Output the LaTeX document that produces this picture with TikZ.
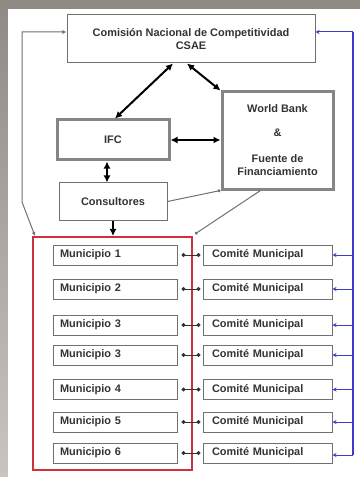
\documentclass[tikz,border=0pt]{standalone}
\usepackage{fontspec}
\setmainfont{Liberation Sans}
\usetikzlibrary{arrows.meta}
\definecolor{bggray}{HTML}{8F8B84}
\definecolor{bglight}{HTML}{C9C5BE}
\definecolor{boxgray}{HTML}{707070}
\definecolor{thickgray}{HTML}{858585}
\definecolor{redbox}{HTML}{D0303C}
\definecolor{bluel}{HTML}{3C3CC8}
\definecolor{txt}{HTML}{333333}
\begin{document}
\begin{tikzpicture}[x=1bp,y=-1bp,
  every node/.style={font=\fontsize{11}{13}\selectfont\bfseries, text=txt},
  thinbox/.style={draw=boxgray, line width=1bp, fill=white, inner sep=0pt, align=center},
  thickbox/.style={draw=thickgray, line width=3bp, fill=white, inner sep=0pt, align=center},
  munbox/.style={thinbox, minimum width=124bp, minimum height=20bp, text width=110bp, align=left},
  combox/.style={thinbox, minimum width=129bp, minimum height=20bp, text width=111bp, align=left},
  dblarrow/.style={line width=2bp, arrows={Latex[length=7bp,width=7bp]-Latex[length=7bp,width=7bp]}},
  downarrow/.style={line width=2bp, arrows={-Latex[length=7bp,width=7bp]}},
  grayline/.style={draw=boxgray, line width=1bp},
  dotlink/.style={draw=black!80, line width=0.9bp, arrows={Circle[length=4bp]-Circle[length=4bp]}, shorten <=4bp, shorten >=2bp},
  blueline/.style={draw=bluel, line width=1.6bp},
  bluearrow/.style={draw=bluel, line width=1bp, arrows={-Stealth[length=4bp,width=4bp]}}
]
\useasboundingbox (0,0) rectangle (360,477);
\fill[bggray] (0,0) rectangle (360,9);
\shade[top color=bggray, bottom color=bglight] (0,0) rectangle (8,477);
\fill[white] (8,9) rectangle (360,477);

% main boxes
\node[thinbox, minimum width=248bp, minimum height=48bp] (top) at (191,39)
  {Comisión Nacional de Competitividad\\CSAE};
\node[thickbox, minimum width=112bp, minimum height=40bp] (ifc) at (113,140) {IFC};
\node[thickbox, minimum width=111bp, minimum height=97bp] (wb) at (277.5,140.5)
  {World Bank\\[11bp]\&\\[13bp]Fuente de\\Financiamiento};
\node[thinbox, minimum width=108bp, minimum height=37bp] (cons) at (113,201.5) {Consultores};
\node[draw=redbox, line width=2bp, minimum width=159bp, minimum height=233bp, inner sep=0pt] (red) at (112.5,353.5) {};

% rows
\foreach \i/\y/\t in {1/255/Municipio 1, 2/289/Municipio 2, 3/325/Municipio 3, 4/355/Municipio 3, 5/389.5/Municipio 4, 6/422/Municipio 5, 7/453/Municipio 6}{
  \node[munbox] (m\i) at (115,\y) {\t};
  \node[combox] (c\i) at (267.5,\y) {Comité Municipal};
  \draw[dotlink] (m\i.east) -- (c\i.west);
}

% black arrows
\draw[dblarrow] ([xshift=-18bp]top.south) -- ([xshift=2bp]ifc.north);
\draw[dblarrow] ([xshift=-4bp]top.south) -- (wb.north west);
\draw[dblarrow] (ifc.east) -- (ifc.east -| wb.west);
\draw[dblarrow] ([xshift=-6bp]ifc.south) -- ([xshift=-6bp]cons.north);
\draw[downarrow] (cons.south) -- (cons.south |- red.north);

% gray lines
\coordinate (l1) at (22,32);
\coordinate (l2) at (22,202);
\draw[grayline, arrows={Latex[length=4bp,width=4bp]-Latex[length=4bp,width=4bp]}]
  ([yshift=7bp]top.west) -- (l1) -- (l2) -- ([xshift=3bp]red.north west);
\draw[grayline, arrows={-Circle[length=3bp]}] (cons.east) -- (wb.south west);
\draw[grayline, arrows={-Circle[length=3bp]}] ([xshift=-17bp]wb.south) -- ([xshift=2bp,yshift=2bp]red.north east);

% blue lines
\coordinate (bt) at (353,32);
\coordinate (bb) at (353,455);
\draw[blueline] (bt) -- (bb);
\draw[bluearrow] (bt) -- (bt -| top.east);
\foreach \i in {1,...,6}{
  \draw[bluearrow] (bt |- c\i.east) -- (c\i.east);
}
\draw[bluearrow] (bb) -- (bb -| c7.east);
\end{tikzpicture}
\end{document}
